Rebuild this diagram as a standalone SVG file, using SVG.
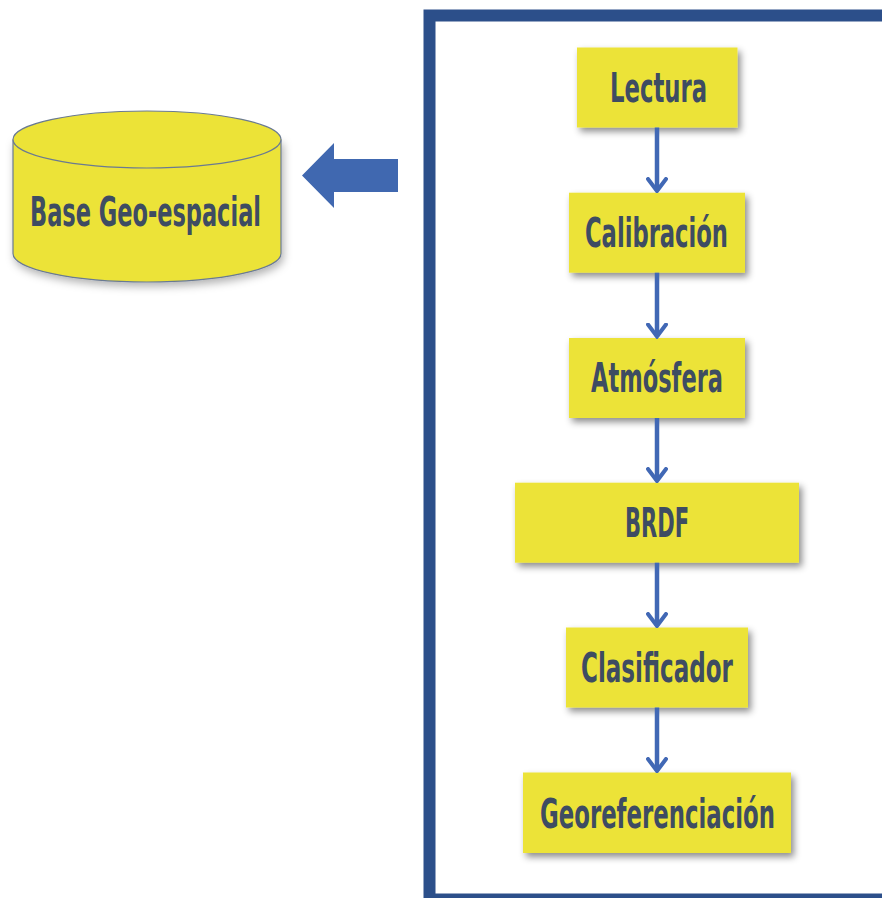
<svg xmlns="http://www.w3.org/2000/svg" width="882" height="898" viewBox="0 0 882 898">
<defs>
<filter id="sh" x="-20%" y="-20%" width="140%" height="150%">
<feDropShadow dx="3" dy="4" stdDeviation="3.5" flood-color="#000" flood-opacity="0.45"/>
</filter>
<filter id="sh2" x="-10%" y="-10%" width="125%" height="130%">
<feDropShadow dx="2" dy="4" stdDeviation="4" flood-color="#000" flood-opacity="0.3"/>
</filter>
<marker id="ah" viewBox="0 0 16 22" refX="14" refY="11" markerWidth="16" markerHeight="22" markerUnits="userSpaceOnUse" orient="auto">
<path d="M2,2 L14,11 L2,20" fill="none" stroke="#4168B5" stroke-width="4" stroke-linecap="round" stroke-linejoin="miter"/>
</marker>
</defs>
<style>
.box{fill:#ECE337;filter:url(#sh);}
.lbl{font-family:"DejaVu Sans",sans-serif;font-stretch:condensed;font-weight:bold;font-size:40px;fill:#3E4C62;text-anchor:middle;}
.con{stroke:#4168B5;stroke-width:4.5;fill:none;marker-end:url(#ah);}
</style>
<rect width="882" height="898" fill="#FFFFFF"/>
<g id="frame">
<rect x="429.5" y="15.5" width="470" height="884" fill="none" stroke="#2C4F8A" stroke-width="12"/>
</g>
<g id="base-geoespacial">
<path d="M13,139.5 L13,253.5 A134,28.5 0 0 0 281,253.5 L281,139.5" fill="#ECE337" stroke="#6A7A92" stroke-width="1.2" filter="url(#sh2)"/>
<ellipse cx="147" cy="139.5" rx="134" ry="28.5" fill="#ECE337" stroke="#6A7A92" stroke-width="1.2"/>
<text class="lbl" x="145.5" y="225.5" textLength="231" lengthAdjust="spacingAndGlyphs">Base Geo-espacial</text>
</g>
<g id="big-arrow">
<path d="M302,175.5 L334,143 L334,159 L398,159 L398,192 L334,192 L334,208 Z" fill="#4068B0"/>
</g>
<g id="lectura">
<rect class="box" x="577" y="47.5" width="160.5" height="80"/>
<text class="lbl" x="658.5" y="102" textLength="97" lengthAdjust="spacingAndGlyphs">Lectura</text>
</g>
<g id="calibracion">
<rect class="box" x="569" y="192.7" width="176" height="80"/>
<text class="lbl" x="656.5" y="246.5" textLength="143" lengthAdjust="spacingAndGlyphs">Calibración</text>
</g>
<g id="atmosfera">
<rect class="box" x="569" y="338" width="176" height="80"/>
<text class="lbl" x="657" y="392" textLength="132" lengthAdjust="spacingAndGlyphs">Atmósfera</text>
</g>
<g id="brdf">
<rect class="box" x="515" y="482.7" width="284" height="80"/>
<text class="lbl" x="657" y="537" textLength="64" lengthAdjust="spacingAndGlyphs">BRDF</text>
</g>
<g id="clasificador">
<rect class="box" x="566" y="627.5" width="182" height="80"/>
<text class="lbl" x="657" y="682" textLength="152" lengthAdjust="spacingAndGlyphs">Clasificador</text>
</g>
<g id="georeferenciacion">
<rect class="box" x="523" y="772.5" width="268" height="80.5"/>
<text class="lbl" x="657.5" y="827.5" textLength="235" lengthAdjust="spacingAndGlyphs">Georeferenciación</text>
</g>
<g id="connectors">
<line class="con" x1="657" y1="127.5" x2="657" y2="191"/>
<line class="con" x1="657" y1="272.7" x2="657" y2="336.5"/>
<line class="con" x1="657" y1="418" x2="657" y2="481"/>
<line class="con" x1="657" y1="562.7" x2="657" y2="626"/>
<line class="con" x1="657" y1="707.5" x2="657" y2="771"/>
</g>
</svg>
